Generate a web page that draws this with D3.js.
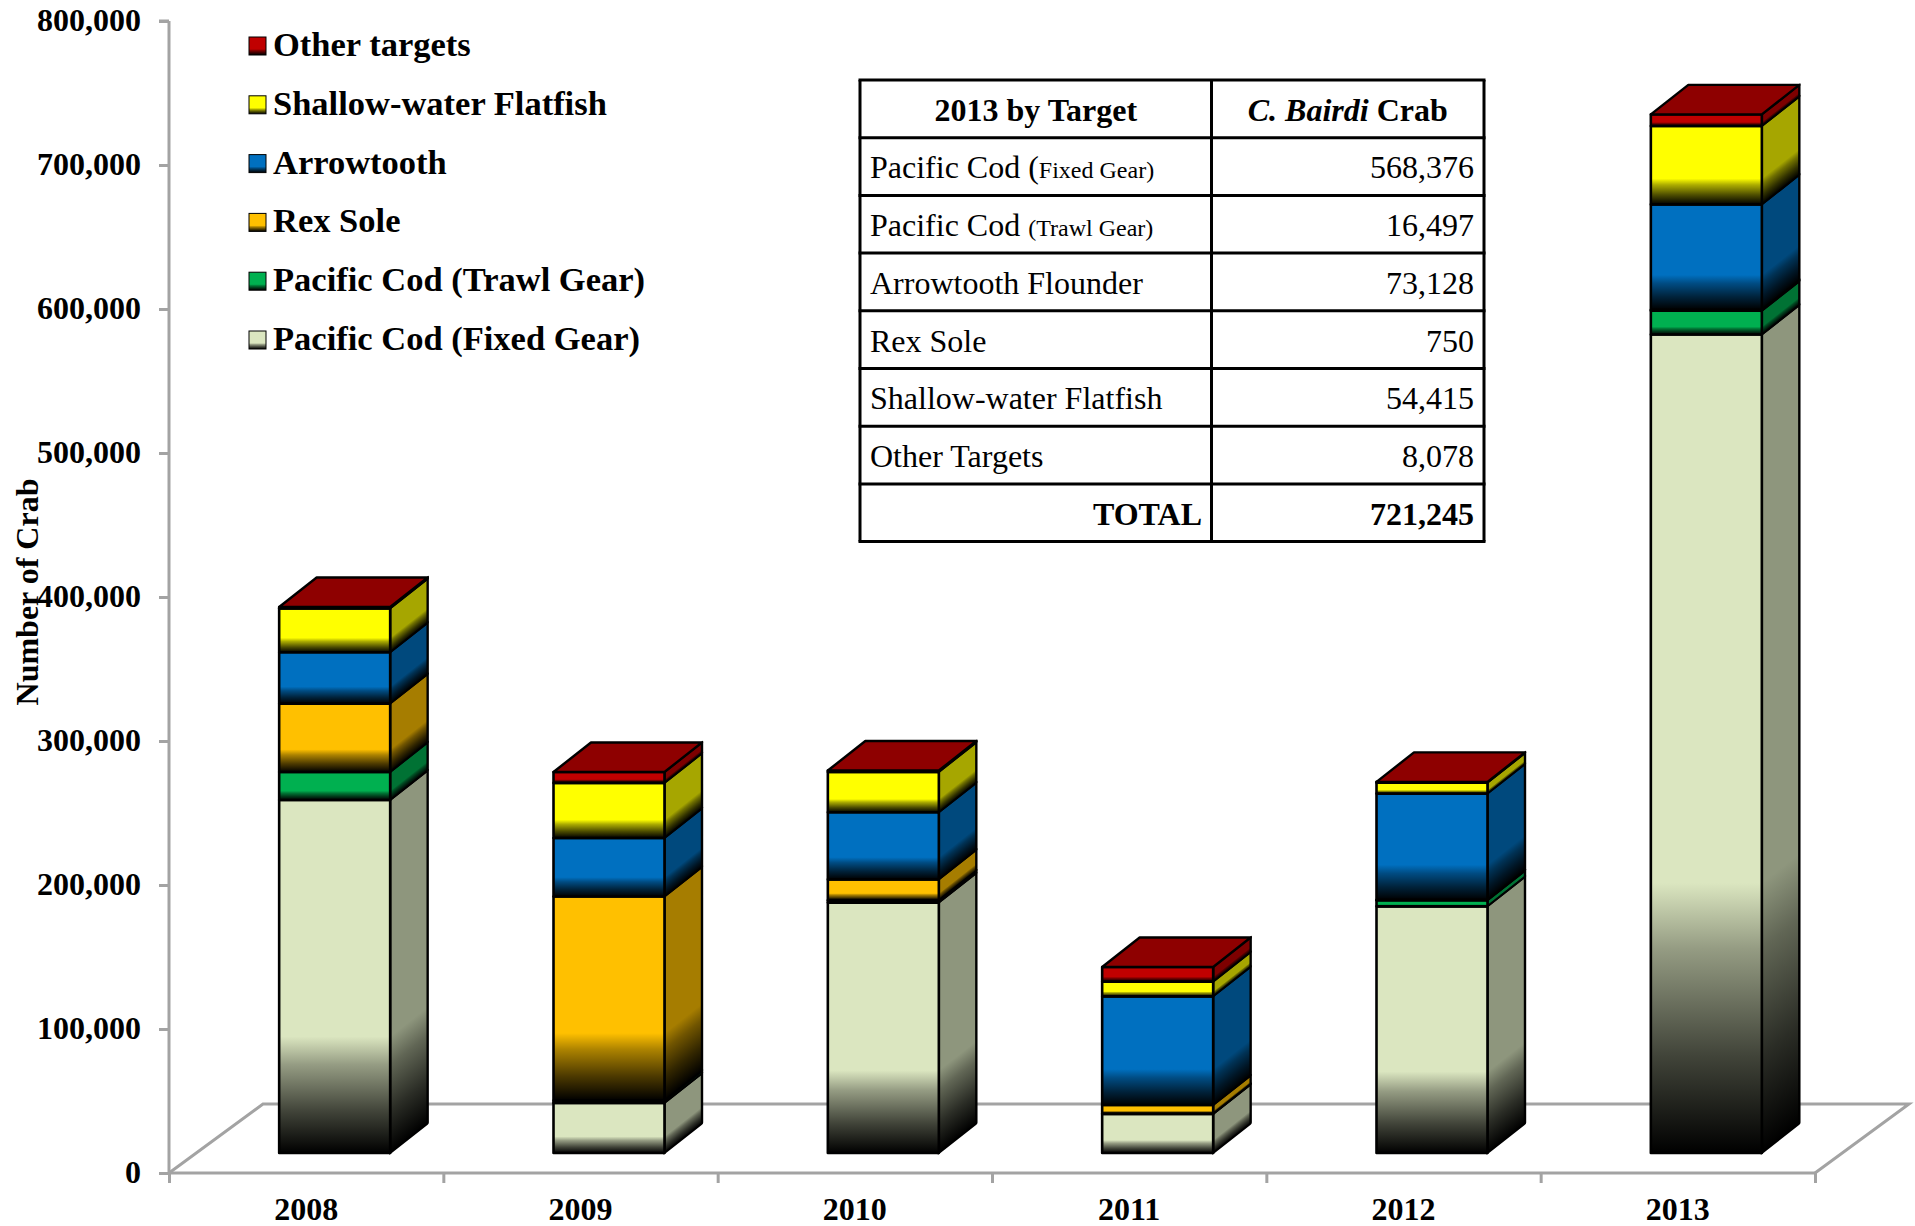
<!DOCTYPE html>
<html><head><meta charset="utf-8">
<script src="https://cdn.jsdelivr.net/npm/d3@7/dist/d3.min.js"></script>
<style>
html,body{margin:0;padding:0;background:#fff;overflow:hidden}
svg{display:block}
text{font-family:"Liberation Serif","Times New Roman",serif;fill:#000}
</style></head><body>
<svg id="c" width="1915" height="1226"></svg>
<script>
const years = ["2008","2009","2010","2011","2012","2013"];
const seriesNames = ["Pacific Cod (Fixed Gear)","Pacific Cod (Trawl Gear)","Rex Sole","Arrowtooth","Shallow-water Flatfish","Other targets"];
const seriesColors = ["#DBE6C0","#00B050","#FFC000","#0070C0","#FFFF00","#C00000"];
const fixedGear = [245100,34800,173900,27100,171300,568376];
const trawlGear = [19500,1700,1700,300,4200,16497];
const rexSole = [47500,141600,14400,5900,300,750];
const arrowtooth = [35600,40700,46600,75500,73800,73128];
const shallowWater = [30500,38200,28000,10200,7600,54415];
const otherTargets = [1000,7600,1000,10200,500,8078];
const yTicks = [0,100000,200000,300000,400000,500000,600000,700000,800000];
const tableHeader = ["2013 by Target","Crab"];
const tableLabels = ["Arrowtooth Flounder","Rex Sole","Shallow-water Flatfish","Other Targets"];
const tableValues = ["568,376","16,497","73,128","750","54,415","8,078"];
const tableTotal = "721,245";

const allSeries = [fixedGear,trawlGear,rexSole,arrowtooth,shallowWater,otherTargets];
const rows = years.map((yr,i)=>{const o={year:yr};seriesNames.forEach((s,k)=>o[s]=allSeries[k][i]);return o;});
const stacked = d3.stack().keys(seriesNames)(rows);

const W=1915,H=1226;
const axisLeft=169,axisRight=1815,axisBottom=1173,axisTop=21;
const floorDx=94,floorDy=69;
const depthDx=37.5,depthDy=29.5,frontLift=20,barShift=28.5,barW=111;
const grey="#A3A3A3",axisW=3;

const svg=d3.select("#c");
const defs=svg.append("defs");
const y=d3.scaleLinear().domain([0,800000]).range([axisBottom,axisTop]);
const yFront=d3.scaleLinear().domain([0,800000]).range([axisBottom-frontLift,axisTop-frontLift]);
const x=d3.scaleBand().domain(years).range([axisLeft,axisRight]);
const xTicksScale=d3.scaleLinear().domain([0,6]).range([axisLeft,axisRight]);

function shade(c,f){const r=d3.rgb(c);return d3.rgb(r.r*f,r.g*f,r.b*f).formatHex();}
function grad(id,c){
  const g=defs.append("linearGradient").attr("id",id).attr("x1",0).attr("y1",0).attr("x2",0).attr("y2",1);
  [[0,c],[.67,c],[.75,shade(c,.68)],[.88,shade(c,.3)],[1,"#000"]].forEach(s=>g.append("stop").attr("offset",s[0]).attr("stop-color",s[1]));
}
seriesColors.forEach((c,i)=>{grad("f"+i,c);grad("s"+i,shade(c,.65));});

// floor
const floor=[[axisLeft,axisBottom],[axisLeft+floorDx,axisBottom-floorDy],[axisRight+floorDx,axisBottom-floorDy],[axisRight,axisBottom]];
svg.append("path").attr("d",d3.line()(floor)).attr("fill","none").attr("stroke",grey).attr("stroke-width",axisW);

// axes
const gy=svg.append("g").attr("transform",`translate(${axisLeft},0)`)
  .call(d3.axisLeft(y).tickValues(yTicks).tickFormat(d3.format(",")).tickSize(10).tickPadding(18));
gy.selectAll("path,line").attr("stroke",grey).attr("stroke-width",axisW);
gy.select("path").attr("d",`M0,${axisTop}V${axisBottom}M-10,${axisTop}H0`);
gy.selectAll("text").attr("font-size",32).attr("font-weight","bold").attr("dy","0.3em").attr("fill","#000")
  .style("font-family",'"Liberation Serif",serif');

const gx=svg.append("g").attr("transform",`translate(0,${axisBottom})`)
  .call(d3.axisBottom(xTicksScale).tickValues(d3.range(7)).tickFormat("").tickSize(10));
gx.selectAll("path,line").attr("stroke",grey).attr("stroke-width",axisW);
gx.select("path").attr("d",`M${axisLeft},0H${axisRight}`);
const gl=svg.append("g").attr("transform",`translate(0,${axisBottom})`)
  .call(d3.axisBottom(x).tickSize(0).tickPadding(0));
gl.select("path").remove();
gl.selectAll("text").attr("y",47).attr("dy",0).attr("font-size",32).attr("font-weight","bold").attr("fill","#000")
  .style("font-family",'"Liberation Serif",serif');

// y title
svg.append("text").attr("transform",`translate(38,592) rotate(-90)`).attr("text-anchor","middle")
  .attr("font-size",32).attr("font-weight","bold").text("Number of Crab");

// bars
const k=depthDy/depthDx;
const barLeft=yr=>x(yr)+x.bandwidth()/2+barShift-barW/2;
stacked.forEach((layer,si)=>{
  const g=svg.append("g");
  layer.forEach((d,i)=>{
    const yr=years[i],xl=barLeft(yr),t=yFront(d[1]),b=yFront(d[0]),h=Math.max(b-t,.1);
    g.append("rect").attr("transform",`matrix(1,${-k},0,1,${xl+barW},${t})`)
      .attr("width",depthDx).attr("height",h).attr("fill",`url(#s${si})`)
      .attr("stroke","#000").attr("stroke-width",2.4).attr("stroke-linejoin","round");
    g.append("rect").attr("x",xl).attr("y",t).attr("width",barW).attr("height",h)
      .attr("fill",`url(#f${si})`).attr("stroke","#000").attr("stroke-width",2.6).attr("stroke-linejoin","round");
  });
});
// top faces
const topLayer=stacked[stacked.length-1];
svg.append("g").selectAll("path").data(topLayer).join("path")
  .attr("d",(d,i)=>{const xl=barLeft(years[i]),t=yFront(d[1]);
    return d3.line()([[xl,t],[xl+depthDx,t-depthDy],[xl+barW+depthDx,t-depthDy],[xl+barW,t]])+"Z";})
  .attr("fill","#8E0000").attr("stroke","#000").attr("stroke-width",2.4).attr("stroke-linejoin","round");

// legend
const legend=svg.append("g");
const legendRows=[...seriesNames].reverse();
const legendY=d3.scalePoint().domain(legendRows).range([46,340]);
legendRows.forEach(name=>{
  const si=seriesNames.indexOf(name),cy=legendY(name);
  legend.append("rect").attr("x",249).attr("y",cy-9).attr("width",17).attr("height",18)
    .attr("fill",`url(#f${si})`).attr("stroke","#000").attr("stroke-width",1);
  legend.append("text").attr("x",273).attr("y",cy+10).attr("font-size",34.5).attr("font-weight","bold").text(name);
});

// table
const tX0=860,tXm=1211.5,tX1=1484,tY0=80,tRow=57.7;
const tb=svg.append("g");
const rowBase=r=>tY0+tRow*r+40.7;
const head=tb.append("text").attr("x",(tX0+tXm)/2).attr("y",rowBase(0)).attr("text-anchor","middle").attr("font-size",32).attr("font-weight","bold").text(tableHeader[0]);
const h2=tb.append("text").attr("x",(tXm+tX1)/2).attr("y",rowBase(0)).attr("text-anchor","middle").attr("font-size",32).attr("font-weight","bold");
h2.append("tspan").attr("font-style","italic").text("C. Bairdi ");
h2.append("tspan").text(tableHeader[1]);
const lab1=tb.append("text").attr("x",870).attr("y",rowBase(1)).attr("font-size",32);
lab1.append("tspan").text("Pacific Cod (");lab1.append("tspan").attr("font-size",24).text("Fixed Gear)");
const lab2=tb.append("text").attr("x",870).attr("y",rowBase(2)).attr("font-size",32);
lab2.append("tspan").text("Pacific Cod ");lab2.append("tspan").attr("font-size",24).text("(Trawl Gear)");
tableLabels.forEach((l,i)=>tb.append("text").attr("x",870).attr("y",rowBase(i+3)).attr("font-size",32).text(l));
tableValues.forEach((v,i)=>tb.append("text").attr("x",1474).attr("y",rowBase(i+1)).attr("text-anchor","end").attr("font-size",32).text(v));
tb.append("text").attr("x",1202).attr("y",rowBase(7)).attr("text-anchor","end").attr("font-size",32).attr("font-weight","bold").text("TOTAL");
tb.append("text").attr("x",1474).attr("y",rowBase(7)).attr("text-anchor","end").attr("font-size",32).attr("font-weight","bold").text(tableTotal);
d3.range(9).forEach(r=>tb.append("line").attr("x1",tX0-1.5).attr("x2",tX1+1.5).attr("y1",tY0+tRow*r).attr("y2",tY0+tRow*r).attr("stroke","#000").attr("stroke-width",3));
[tX0,tXm,tX1].forEach(xx=>tb.append("line").attr("x1",xx).attr("x2",xx).attr("y1",tY0).attr("y2",tY0+tRow*8).attr("stroke","#000").attr("stroke-width",3));
</script>
</body></html>
